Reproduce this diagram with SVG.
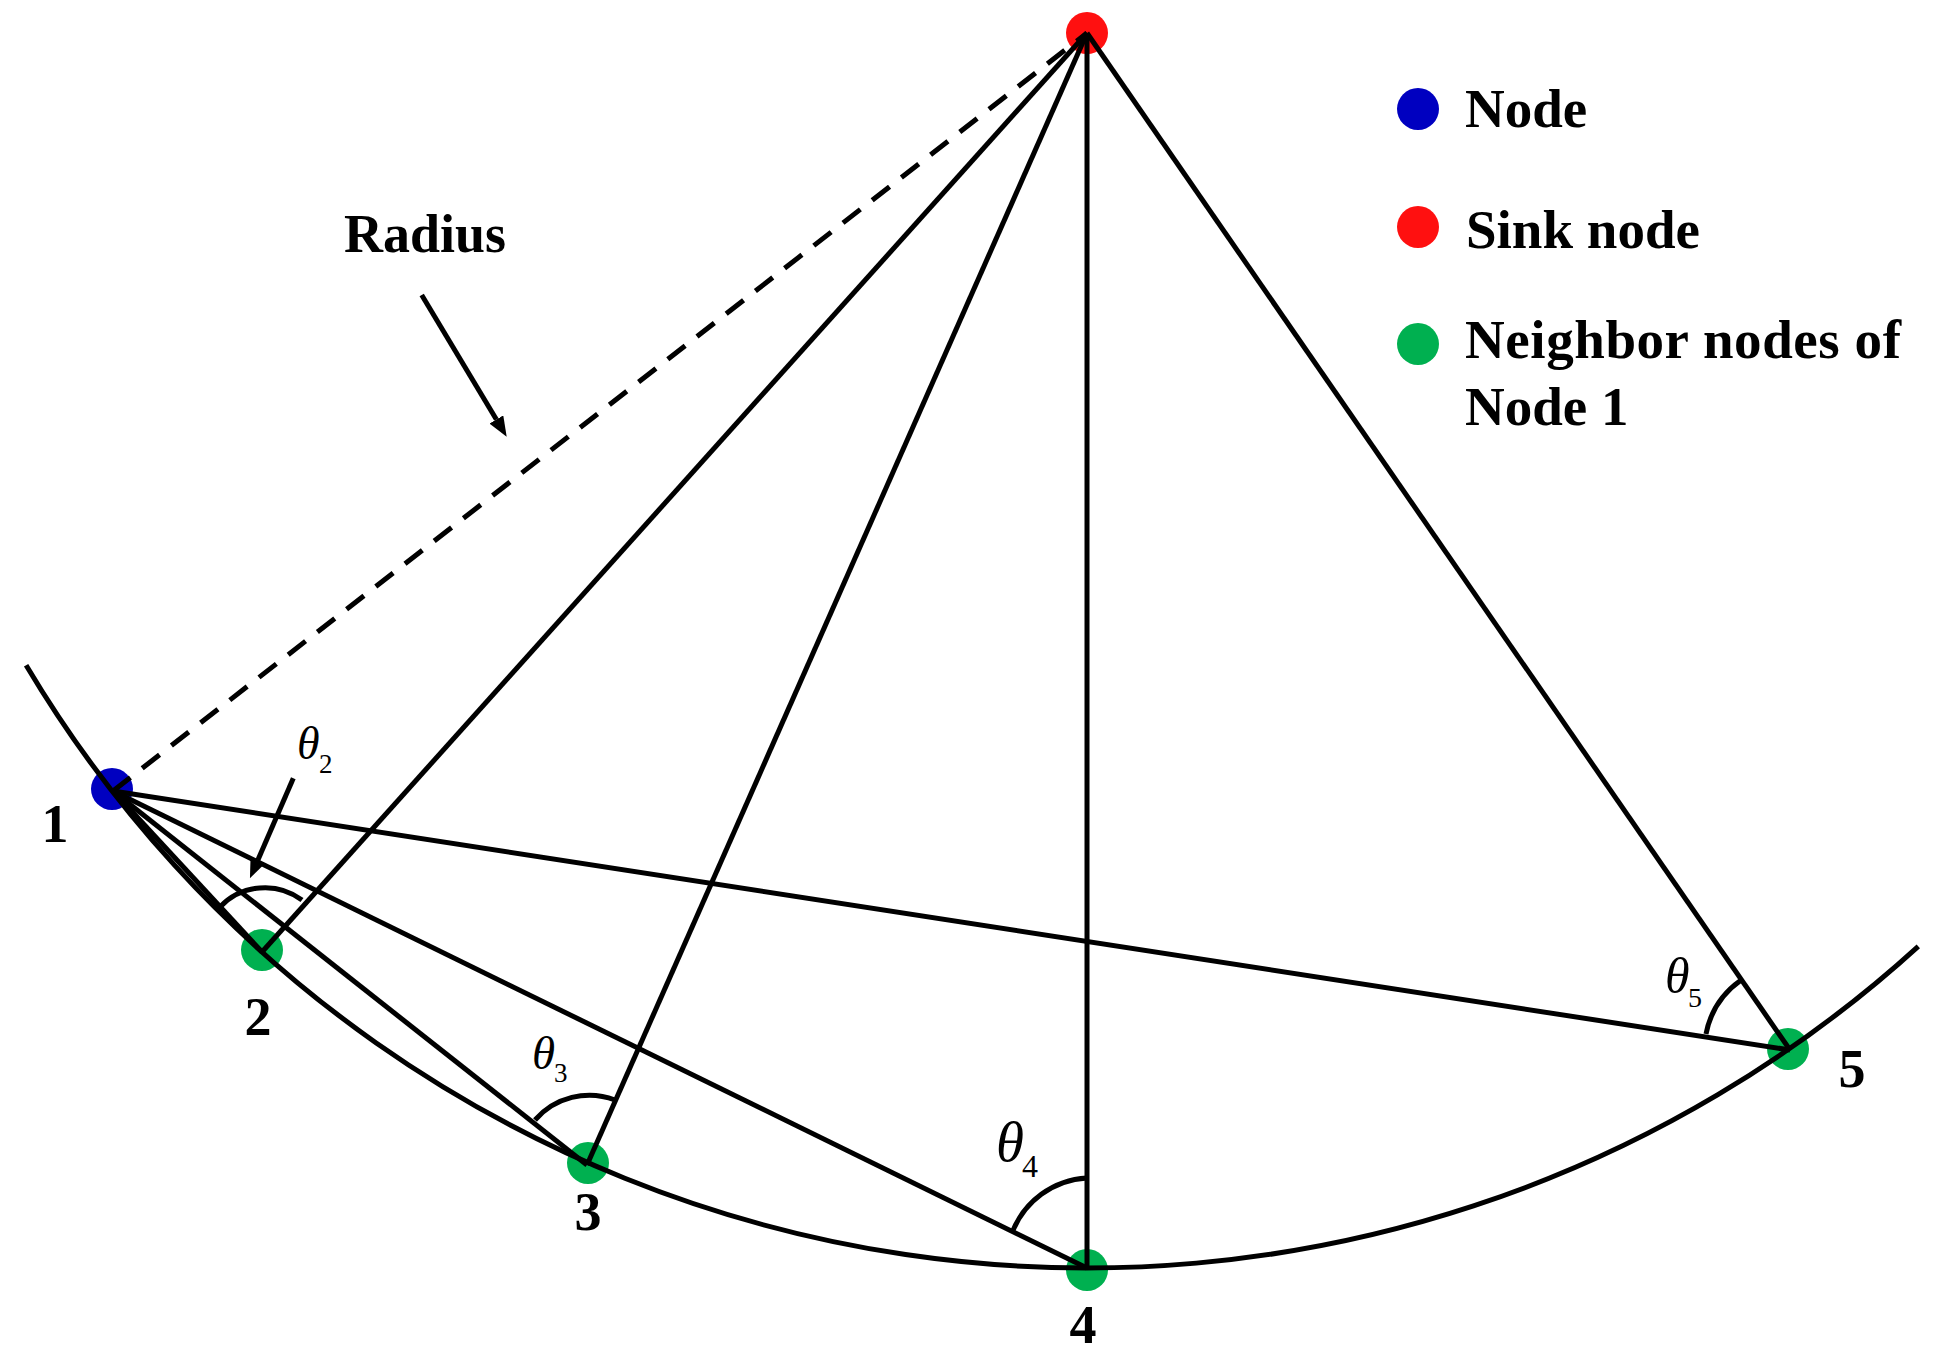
<svg xmlns="http://www.w3.org/2000/svg" width="1936" height="1363" viewBox="0 0 1936 1363">
<style>
.ln{stroke:#000;stroke-width:5;fill:none}
.dash{stroke:#000;stroke-width:5;fill:none;stroke-dasharray:22 15}
.lbl{font-family:"Liberation Serif","Times New Roman",serif;font-weight:bold;font-size:54px;fill:#000}
.leg{font-family:"Liberation Serif","Times New Roman",serif;font-weight:bold;font-size:55px;fill:#000}
.th{font-family:"Liberation Serif","Times New Roman",serif;font-style:italic;fill:#000}
.sub{font-family:"Liberation Serif","Times New Roman",serif;font-style:normal;fill:#000}
.blue{fill:#0000C0}.red{fill:#FF1010}.green{fill:#00B050}
</style>
<defs>
<marker id="ah" markerWidth="20" markerHeight="16" refX="0" refY="8" orient="auto" markerUnits="userSpaceOnUse">
<path d="M0,0 L20,8 L0,16 z" fill="#000"/>
</marker>
</defs>
<rect width="1936" height="1363" fill="#fff"/>

<g id="node-dots">
<circle id="dot-sink" class="red" cx="1087" cy="33" r="21"/>
<circle id="dot-1" class="blue" cx="112" cy="789" r="21"/>
<circle id="dot-2" class="green" cx="262" cy="950" r="21"/>
<circle id="dot-3" class="green" cx="588" cy="1163" r="21"/>
<circle id="dot-4" class="green" cx="1087" cy="1270" r="21"/>
<circle id="dot-5" class="green" cx="1788" cy="1049" r="21"/>
</g>

<g id="connectors">
<path id="boundary-arc" class="ln" d="M26.1,665.2 A1235,1235 0 0 0 1918.3,946.3"/>
<line class="dash" x1="113" y1="791" x2="1087" y2="33"/>
<line class="ln" x1="113" y1="791" x2="262" y2="952"/>
<line class="ln" x1="113" y1="791" x2="587" y2="1165"/>
<line class="ln" x1="113" y1="791" x2="1087" y2="1268"/>
<line class="ln" x1="113" y1="791" x2="1790" y2="1050"/>
<line class="ln" x1="1087" y1="33" x2="262" y2="952"/>
<line class="ln" x1="1087" y1="33" x2="587" y2="1165"/>
<line class="ln" x1="1087" y1="33" x2="1087" y2="1268"/>
<line class="ln" x1="1087" y1="33" x2="1790" y2="1050"/>
<line class="ln" x1="421.7" y1="295" x2="496.4" y2="419.5" marker-end="url(#ah)"/>
<line class="ln" x1="293.3" y1="778.3" x2="257.9" y2="860" marker-end="url(#ah)"/>
<path class="ln" d="M220,907 A62,62 0 0 1 302,900"/>
<path class="ln" d="M535,1120 A72,72 0 0 1 615,1100"/>
<path class="ln" d="M1012,1233 A85,85 0 0 1 1087,1178"/>
<path class="ln" d="M1706,1034 A85.7,85.7 0 0 1 1740.5,980.5"/>
</g>

<g id="node-1"><text class="lbl" x="55" y="842" text-anchor="middle">1</text></g>
<g id="node-2"><text class="lbl" x="258" y="1035" text-anchor="middle">2</text></g>
<g id="node-3"><text class="lbl" x="588" y="1230" text-anchor="middle">3</text></g>
<g id="node-4"><text class="lbl" x="1083" y="1343" text-anchor="middle">4</text></g>
<g id="node-5"><text class="lbl" x="1852" y="1087" text-anchor="middle">5</text></g>

<g id="radius-label"><text class="leg" x="344" y="252" textLength="162" lengthAdjust="spacingAndGlyphs">Radius</text></g>

<g id="angles">
<text class="th" x="297" y="759" font-size="46">θ<tspan class="sub" x="319" y="773" font-size="27">2</tspan></text>
<text class="th" x="532" y="1069" font-size="47">θ<tspan class="sub" x="554" y="1082" font-size="27">3</tspan></text>
<text class="th" x="996" y="1161" font-size="57">θ<tspan class="sub" x="1022" y="1177" font-size="32">4</tspan></text>
<text class="th" x="1665" y="993" font-size="50">θ<tspan class="sub" x="1688" y="1007" font-size="28">5</tspan></text>
</g>

<g id="legend">
<g id="legend-node"><circle class="blue" cx="1418" cy="109" r="21"/><text class="leg" x="1465" y="127">Node</text></g>
<g id="legend-sink"><circle class="red" cx="1418" cy="227" r="21"/><text class="leg" x="1466" y="248">Sink node</text></g>
<g id="legend-neighbor"><circle class="green" cx="1418" cy="344" r="21"/><text class="leg" x="1465" y="358" textLength="436" lengthAdjust="spacing">Neighbor nodes of</text><text class="leg" x="1465" y="425">Node 1</text></g>
</g>
</svg>
